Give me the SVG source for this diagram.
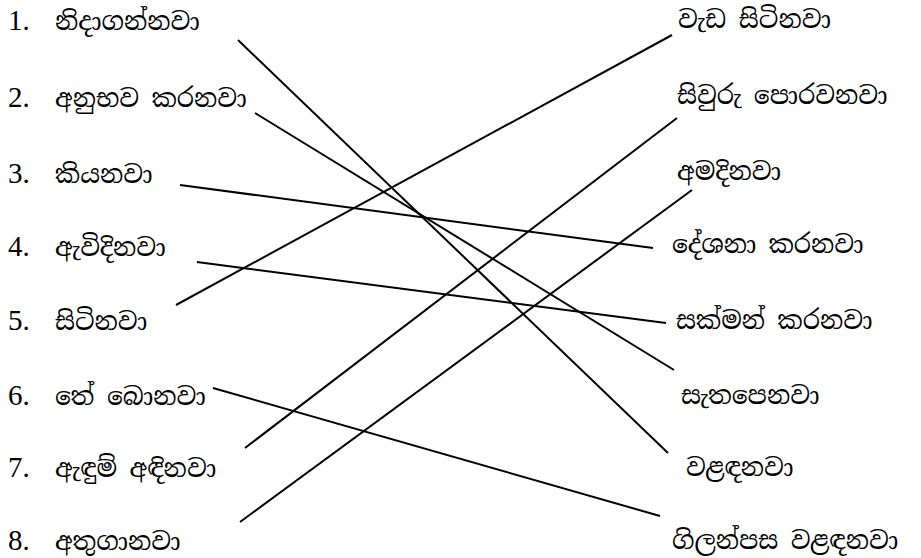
<svg xmlns="http://www.w3.org/2000/svg" width="921" height="558" viewBox="0 0 921 558">
<style>
.num{font-family:"Liberation Serif",serif;font-size:29px;fill:#000}
.t{font-family:"Noto Serif Sinhala","Noto Sans Sinhala","Iskoola Pota","Noto Sans","DejaVu Sans",sans-serif;font-size:25px;fill:#000}
.c line{stroke:#000;stroke-width:2}
</style>
<rect width="921" height="558" fill="#fff"/>
<g id="left">
<g id="l1"><text class="num" x="8" y="30">1.</text><text class="t" x="55" y="30">නිදාගන්නවා</text></g>
<g id="l2"><text class="num" x="8" y="107">2.</text><text class="t" x="55" y="107">අනුභව කරනවා</text></g>
<g id="l3"><text class="num" x="8" y="183">3.</text><text class="t" x="55" y="183">කියනවා</text></g>
<g id="l4"><text class="num" x="8" y="256">4.</text><text class="t" x="55" y="256">ඇවිදිනවා</text></g>
<g id="l5"><text class="num" x="8" y="330">5.</text><text class="t" x="55" y="330">සිටිනවා</text></g>
<g id="l6"><text class="num" x="8" y="405">6.</text><text class="t" x="55" y="405">තේ බොනවා</text></g>
<g id="l7"><text class="num" x="8" y="477">7.</text><text class="t" x="55" y="477">ඇඳුම් අඳිනවා</text></g>
<g id="l8"><text class="num" x="8" y="550">8.</text><text class="t" x="55" y="550">අතුගානවා</text></g>
</g>
<g id="right">
<g id="r1"><text class="t" x="678" y="28">වැඩ සිටිනවා</text></g>
<g id="r2"><text class="t" x="677" y="104">සිවුරු පොරවනවා</text></g>
<g id="r3"><text class="t" x="677" y="180">අමදිනවා</text></g>
<g id="r4"><text class="t" x="672" y="253">දේශනා කරනවා</text></g>
<g id="r5"><text class="t" x="676" y="329">සක්මන් කරනවා</text></g>
<g id="r6"><text class="t" x="681" y="404">සැතපෙනවා</text></g>
<g id="r7"><text class="t" x="686" y="476">වළඳනවා</text></g>
<g id="r8"><text class="t" x="672" y="549">ගිලන්පස වළඳනවා</text></g>
</g>
<g id="connectors" class="c">
<line x1="238" y1="40" x2="668" y2="453"/>
<line x1="255" y1="113" x2="674" y2="370"/>
<line x1="180" y1="185" x2="653" y2="248"/>
<line x1="197" y1="262" x2="666" y2="323"/>
<line x1="176" y1="305" x2="672" y2="35"/>
<line x1="213" y1="388" x2="660" y2="516"/>
<line x1="245" y1="448" x2="677" y2="118"/>
<line x1="240" y1="522" x2="692" y2="190"/>
</g>
</svg>
